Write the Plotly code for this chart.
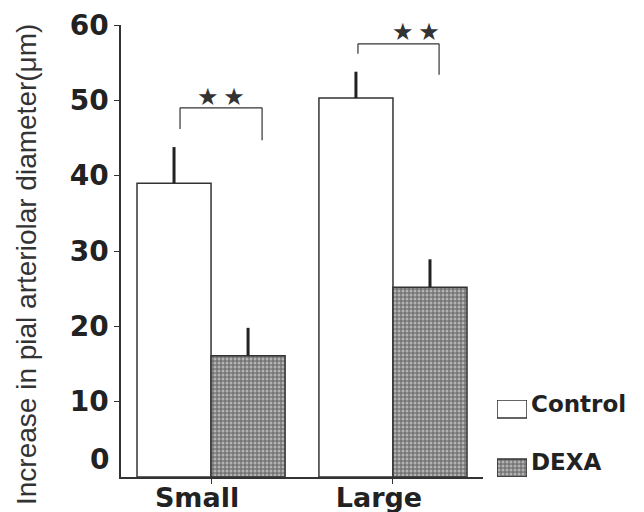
import plotly.graph_objects as go

categories = ["Small", "Large"]
series_names = ["Control", "DEXA"]
control = [39.0, 50.3]
control_err = [4.8, 3.5]
dexa = [16.1, 25.2]
dexa_err = [3.7, 3.7]
y_ticks = [10, 20, 30, 40, 50, 60]
y_title = "Increase in pial arteriolar diameter(μm)"

# significance brackets (category index offsets, heights in data units)
br_left_dx = [0.033, 0.011]
br_right_dx = [0.077, 0.050]
br_top = [49.0, 57.5]
br_left_bot = [46.2, 56.2]
br_right_bot = [44.7, 53.4]
star_dx = [0.055, 0.124]
star_y = [50.5, 59.1]

BAR_W = 0.407
LINE = "#333333"
TXT = "#222222"
BOLD = dict(family="DejaVu Sans", weight="bold", color=TXT)

dexa_pattern = dict(shape=".", fgcolor="#f2f2f2", bgcolor="#747474", size=4, solidity=0.45)

fig = go.Figure()
fig.add_trace(go.Bar(
    x=categories, y=control, name=series_names[0],
    marker=dict(color="white", line=dict(color=LINE, width=1.5)),
    error_y=dict(type="data", array=control_err, arrayminus=[0, 0], symmetric=False,
                 thickness=3, width=0, color=TXT),
    showlegend=False))
fig.add_trace(go.Bar(
    x=categories, y=dexa, name=series_names[1],
    marker=dict(color="#9a9a9a", pattern=dexa_pattern, line=dict(color=LINE, width=1.5)),
    error_y=dict(type="data", array=dexa_err, arrayminus=[0, 0], symmetric=False,
                 thickness=3, width=0, color=TXT),
    showlegend=False))

# legend swatches on a hidden secondary axis
fig.add_trace(go.Bar(x=[0.5], y=[18], base=[59], width=1, offset=-0.5, xaxis="x2", yaxis="y2",
                     marker=dict(color="white", line=dict(color=LINE, width=1.5)),
                     showlegend=False, hoverinfo="skip"))
fig.add_trace(go.Bar(x=[0.5], y=[18], base=[0], width=1, offset=-0.5, xaxis="x2", yaxis="y2",
                     marker=dict(color="#9a9a9a", pattern=dexa_pattern, line=dict(color=LINE, width=1.5)),
                     showlegend=False, hoverinfo="skip"))

shapes = []
annotations = []
for i in range(len(categories)):
    xl = i - BAR_W / 2 + br_left_dx[i]
    xr = i + BAR_W / 2 + br_right_dx[i]
    ln = dict(color=LINE, width=1.2)
    shapes.append(dict(type="line", xref="x", yref="y", x0=xl, x1=xl, y0=br_left_bot[i], y1=br_top[i], line=ln))
    shapes.append(dict(type="line", xref="x", yref="y", x0=xl, x1=xr, y0=br_top[i], y1=br_top[i], line=ln))
    shapes.append(dict(type="line", xref="x", yref="y", x0=xr, x1=xr, y0=br_top[i], y1=br_right_bot[i], line=ln))
    annotations.append(dict(x=i + star_dx[i], y=star_y[i], xref="x", yref="y", text="★\u2009★",
                            showarrow=False, font=dict(size=24, color="#333333", family="DejaVu Sans"),
                            yanchor="middle"))

# y-axis title (as rotated text, positioned like the original)
annotations.append(dict(x=0, y=0.469, xref="paper", yref="paper", text=y_title, textangle=-90,
                        showarrow=False, xanchor="center", yanchor="middle", xshift=-95,
                        font=dict(family="Liberation Sans", size=28, color="#333333")))
# raised "0" label
annotations.append(dict(x=0, y=2.3, xref="paper", yref="y", text="0", showarrow=False,
                        xanchor="right", xshift=-10, font=dict(size=28, **BOLD)))
# legend texts
annotations.append(dict(x=0.795, y=73, xref="paper", yref="y2", text=series_names[0], showarrow=False,
                        xanchor="left", yanchor="middle", font=dict(size=23, **BOLD)))
annotations.append(dict(x=0.795, y=15, xref="paper", yref="y2", text=series_names[1], showarrow=False,
                        xanchor="left", yanchor="middle", font=dict(size=23, **BOLD)))

fig.update_layout(
    width=636, height=504,
    margin=dict(l=113, r=10, t=17, b=35),
    paper_bgcolor="white", plot_bgcolor="white",
    barmode="group", bargap=0.186, bargroupgap=0,
    shapes=shapes, annotations=annotations,
    xaxis=dict(domain=[0, 0.7057], type="category", range=[-0.495, 1.495],
               showline=True, linecolor=LINE, linewidth=1.5, ticks="outside", ticklen=5,
               tickcolor=LINE, tickfont=dict(size=27, **BOLD), showgrid=False, zeroline=False,
               ticklabelstandoff=-9, ticklabelshift=-14,
               automargin=False),
    yaxis=dict(range=[0, 60], tickvals=y_ticks, ticktext=[str(v) for v in y_ticks],
               showline=True, linecolor=LINE, linewidth=1.5, ticks="outside", ticklen=5,
               tickcolor=LINE, tickfont=dict(size=28, **BOLD), showgrid=False, zeroline=False,
               automargin=False),
    xaxis2=dict(domain=[0.733, 0.7914], anchor="y2", range=[0, 1], visible=False),
    yaxis2=dict(domain=[0, 0.1704], anchor="x2", range=[0, 77], visible=False),
)

fig.write_html("out.html")
